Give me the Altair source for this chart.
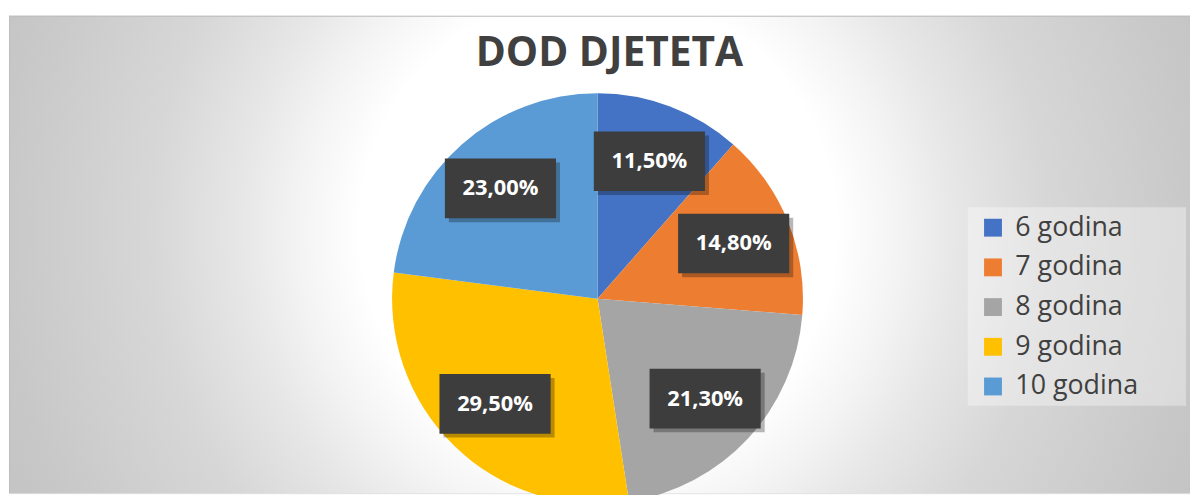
import altair as alt
import pandas as pd

# ---- data ----
kategorije = ["6 godina", "7 godina", "8 godina", "9 godina", "10 godina"]
udjeli = [11.5, 14.8, 21.3, 29.5, 23.0]
boje = ["#4472C4", "#ED7D31", "#A5A5A5", "#FFC000", "#5B9BD5"]

df = pd.DataFrame({"kategorija": kategorije, "udio": udjeli, "redoslijed": list(range(len(kategorije)))})

W, H = 1190, 481
CX, CY = 593, 285          # pie centre inside the view (px)
R = 207                    # pie radius (px)
LR = 148                   # label radius (px)
BW, BH = 56, 30            # half box size

xs = alt.Scale(domain=[-CX, W - CX], nice=False, zero=False)
ys = alt.Scale(domain=[-(H - CY), CY], nice=False, zero=False)

gradient = {
    "gradient": "radial",
    "x1": 0.5, "y1": 0.5, "x2": 0.5, "y2": 0.5, "r1": 0, "r2": 0.5,
    "stops": [
        {"offset": 0.0, "color": "#ffffff"},
        {"offset": 0.343, "color": "#ffffff"},
        {"offset": 0.429, "color": "#f4f4f4"},
        {"offset": 0.514, "color": "#e7e7e7"},
        {"offset": 0.643, "color": "#d7d7d7"},
        {"offset": 0.857, "color": "#c8c8c8"},
        {"offset": 1.0, "color": "#c0c0c0"},
    ],
}

one = pd.DataFrame({"a": [0]})
bg = alt.Chart(one).mark_rect(color=gradient, clip=True).encode(
    x=alt.value(594 - 700), x2=alt.value(594 + 700),
    y=alt.value(216 - 700), y2=alt.value(216 + 700),
)
top_line = alt.Chart(one).mark_rule(color="#bdbdbd", strokeWidth=1).encode(
    x=alt.value(0), x2=alt.value(W), y=alt.value(0.5)
)
left_line = alt.Chart(one).mark_rule(color="#bebebe", strokeWidth=1).encode(
    x=alt.value(0.5), y=alt.value(0), y2=alt.value(H)
)
legend_bg = alt.Chart(one).mark_rect(color="#ffffff", opacity=0.35).encode(
    x=alt.value(966), x2=alt.value(1186), y=alt.value(193), y2=alt.value(393)
)

base = alt.Chart(df)

pie = base.mark_arc(radius=R).encode(
    theta=alt.Theta("udio:Q", stack=True),
    order=alt.Order("redoslijed:Q"),
    color=alt.Color(
        "kategorija:N",
        sort=kategorije,
        scale=alt.Scale(domain=kategorije, range=boje),
        legend=alt.Legend(
            orient="none", legendX=978, legendY=200, title=None,
            symbolType="square", symbolSize=324, symbolStrokeWidth=0, symbolOpacity=1,
            labelFont="Open Sans", labelFontSize=27, labelColor="#404040",
            labelOffset=9, rowPadding=12, padding=0, labelLimit=300,
        ),
    ),
    x=alt.XDatum(0, type="quantitative", scale=xs, axis=None),
    y=alt.YDatum(0, type="quantitative", scale=ys, axis=None),
)

lab = base.transform_joinaggregate(
    total="sum(udio)"
).transform_window(
    cum="sum(udio)", sort=[alt.SortField("redoslijed")], frame=[None, 0]
).transform_calculate(
    mid="(datum.cum - datum.udio / 2) / datum.total * 2 * PI"
).transform_calculate(
    lx=f"{LR} * sin(datum.mid)",
    ly=f"{LR} * cos(datum.mid)",
    tekst="replace(format(datum.udio, '.2f'), '.', ',') + '%'",
).transform_calculate(
    bx1=f"datum.lx - {BW}", bx2=f"datum.lx + {BW}",
    by1=f"datum.ly - {BH}", by2=f"datum.ly + {BH}",
    sx1=f"datum.lx - {BW} + 4", sx2=f"datum.lx + {BW} + 4",
    sy1=f"datum.ly - {BH} - 4", sy2=f"datum.ly + {BH} - 4",
)

shadow = lab.mark_rect(color="#000000", opacity=0.28).encode(
    x=alt.X("sx1:Q", scale=xs, axis=None), x2="sx2:Q",
    y=alt.Y("sy1:Q", scale=ys, axis=None), y2="sy2:Q",
)
boxes = lab.mark_rect(color="#3d3d3d").encode(
    x=alt.X("bx1:Q", scale=xs, axis=None), x2="bx2:Q",
    y=alt.Y("by1:Q", scale=ys, axis=None), y2="by2:Q",
)
texts = lab.mark_text(
    font="Open Sans", fontSize=22, fontWeight="bold", color="#ffffff",
    align="center", baseline="middle",
).encode(
    x=alt.X("lx:Q", scale=xs, axis=None),
    y=alt.Y("ly:Q", scale=ys, axis=None),
    text="tekst:N",
)

chart = alt.layer(bg, top_line, left_line, legend_bg, pie, shadow, boxes, texts).properties(
    width=W, height=H,
    title=alt.TitleParams(
        "DOD DJETETA", font="Open Sans", fontSize=41, fontWeight="bold",
        color="#404040", anchor="middle", orient="top", offset=0,
        baseline="alphabetic", dy=92, dx=10,
    ),
    autosize=alt.AutoSizeParams(type="none"),
    padding={"left": 1, "top": 6, "right": 0, "bottom": 0},
).configure_view(stroke=None).configure(background="#ffffff")

chart.save("out.html", embed_options={"renderer": "svg", "actions": False})
